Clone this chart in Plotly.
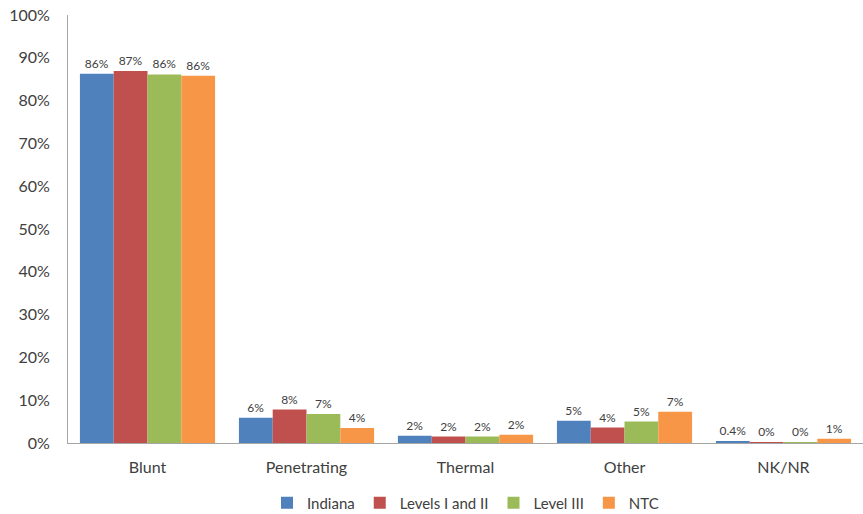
import plotly.graph_objects as go

categories = ["Blunt", "Penetrating", "Thermal", "Other", "NK/NR"]
series_names = ["Indiana", "Levels I and II", "Level III", "NTC"]
indiana = [86.3, 5.9, 1.7, 5.2, 0.4]
levels_1_2 = [86.9, 7.8, 1.5, 3.6, 0.05]
level_3 = [86.1, 6.8, 1.5, 5.0, 0.05]
ntc = [85.8, 3.5, 1.9, 7.3, 1.0]
label_indiana = ["86%", "6%", "2%", "5%", "0.4%"]
label_levels_1_2 = ["87%", "8%", "2%", "4%", "0%"]
label_level_3 = ["86%", "7%", "2%", "5%", "0%"]
label_ntc = ["86%", "4%", "2%", "7%", "1%"]
colors = ["#4F81BD", "#C0504D", "#9BBB59", "#F79646"]
y_ticks = [0, 10, 20, 30, 40, 50, 60, 70, 80, 90, 100]

values = [indiana, levels_1_2, level_3, ntc]
labels = [label_indiana, label_levels_1_2, label_level_3, label_ntc]

fig = go.Figure()
for name, vals, labs, col in zip(series_names, values, labels, colors):
    fig.add_trace(go.Bar(
        x=categories, y=vals, name=name, marker_color=col,
        marker_line_width=0,
        text=labs, textposition="outside", cliponaxis=False,
        textfont=dict(size=12, color="#404040"),
    ))

fig.update_layout(
    width=863, height=514,
    margin=dict(l=68, r=0, t=15, b=71, autoexpand=False),
    paper_bgcolor="white", plot_bgcolor="white",
    barmode="group", bargap=0.15, bargroupgap=0,
    font=dict(family="Lato, Liberation Sans, sans-serif", color="#404040"),
    legend=dict(orientation="h", x=0.5, xanchor="center", y=-0.14, yanchor="middle",
                font=dict(size=15), itemwidth=30, traceorder="normal"),
)
fig.update_xaxes(showline=True, linecolor="#A6A6A6", linewidth=1, ticks="",
                 tickfont=dict(size=16, color="#404040"), showgrid=False,
                 automargin=False, ticklabelstandoff=10)
fig.update_yaxes(range=[0, 100], tickvals=y_ticks, ticktext=[f"{v}%" for v in y_ticks],
                 showline=True, linecolor="#A6A6A6", linewidth=1, showgrid=False,
                 zeroline=False, ticks="", ticklabelstandoff=14, automargin=False,
                 ticklabeloverflow="allow",
                 tickfont=dict(size=16, color="#404040"))

fig.write_html("out.html", config={"displayModeBar": False},
               post_script="document.body.style.margin='0';")
